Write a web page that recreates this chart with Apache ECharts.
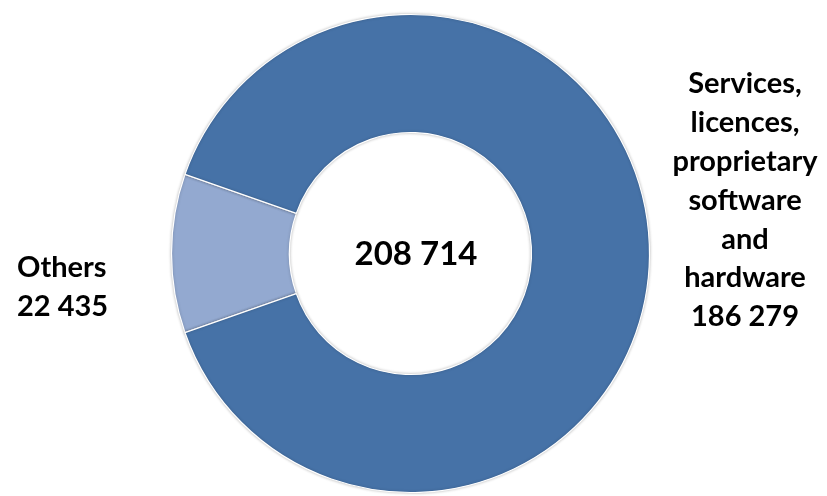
<!DOCTYPE html>
<html>
<head>
<meta charset="utf-8">
<script src="https://cdn.jsdelivr.net/npm/echarts@6/dist/echarts.min.js"></script>
<style>
html,body{margin:0;padding:0;background:#fff;}
#chart{width:827px;height:496px;}
</style>
</head>
<body>
<div id="chart"></div>
<script>
var categories = ["Others", "Services,\nlicences,\nproprietary\nsoftware\nand\nhardware"];
var values = [22435, 186279];
var colors = ["#93A9D0", "#4672A7"];

function fmt(n){ return String(n).replace(/\B(?=(\d{3})+(?!\d))/g, " "); }
var total = values.reduce(function(a,b){return a+b;}, 0);
var startAngle = 180 + 360 * values[0] / total / 2;

var chart = echarts.init(document.getElementById('chart'));
chart.setOption({
  animation: false,
  backgroundColor: '#ffffff',
  title: {
    text: fmt(total),
    left: 411, top: 249, textAlign: 'center', textVerticalAlign: 'middle',
    textStyle: {fontFamily: 'Lato', fontWeight: 'bold', fontSize: 33, color: '#000'}
  },
  series: [{
    type: 'pie',
    center: [410.5, 253.5],
    radius: [121, 239],
    startAngle: startAngle,
    clockwise: true,
    avoidLabelOverlap: false,
    data: categories.map(function(c, i){
      return {name: c, value: values[i], itemStyle: {color: colors[i]}};
    }),
    itemStyle: {borderColor: '#ffffff', borderWidth: 1.2, shadowBlur: 3, shadowColor: 'rgba(0,0,0,0.25)'},
    label: {
      show: true,
      formatter: function(p){ return p.name + '\n' + fmt(p.value); },
      fontFamily: 'Lato', fontWeight: 'bold', fontSize: 29, color: '#000',
      lineHeight: 38.8
    },
    labelLine: {show: false},
    labelLayout: function(p){
      if (p.dataIndex === 0) {
        return {x: 17, y: 287, align: 'left', verticalAlign: 'middle'};
      }
      return {x: 745, y: 200.5, align: 'center', verticalAlign: 'middle'};
    }
  }]
});
</script>
</body>
</html>
